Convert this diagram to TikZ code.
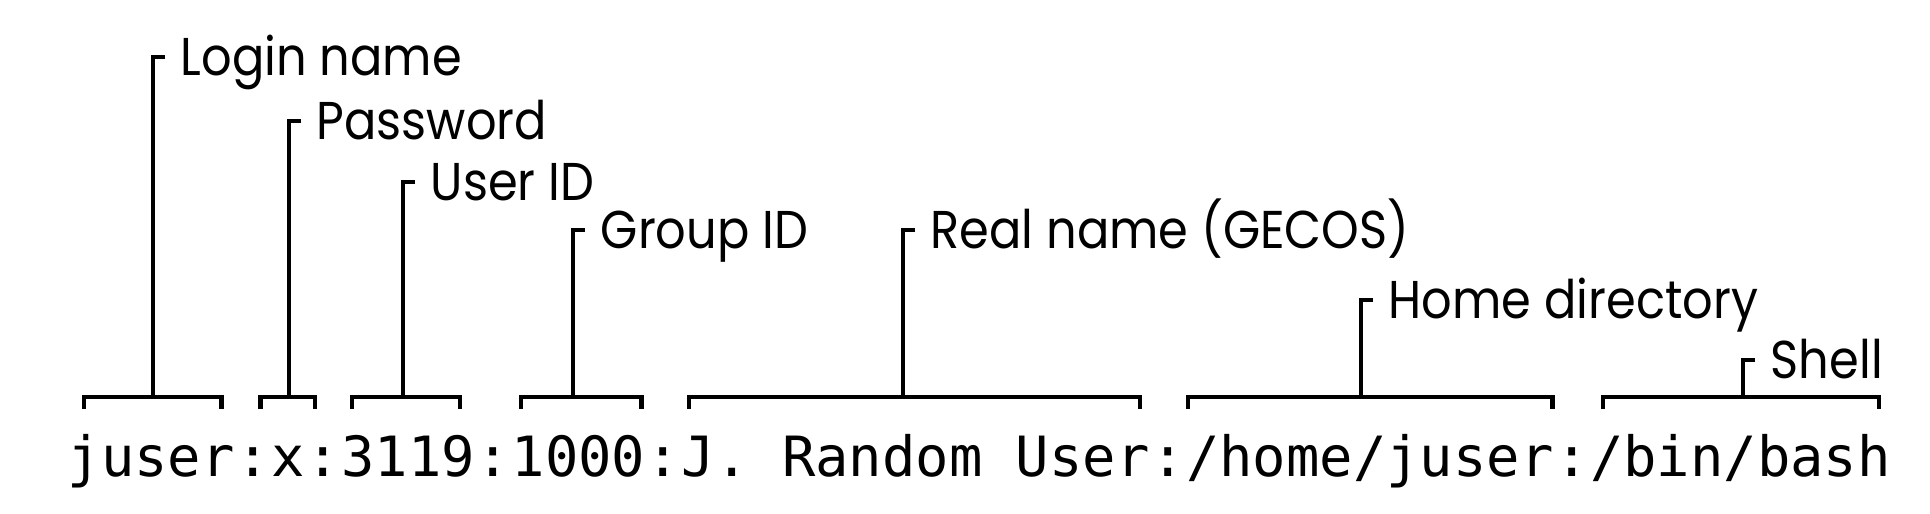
\documentclass[tikz,border=0pt]{standalone}
\usepackage{fontspec}
\setmonofont{DejaVu Sans Mono}
\newfontfamily\labelfont[FakeStretch=0.9]{Poppins}
\usetikzlibrary{positioning}
\frenchspacing
\tikzstyle{field} = [inner sep=0pt, font=\ttfamily\fontsize{13.87}{14}\selectfont]
\tikzstyle{tag} = [inner sep=0pt, anchor=west, text height=9.3pt, text depth=0pt,
    font=\labelfont\fontsize{13.3}{13.3}\selectfont]
\tikzstyle{bracketline} = [draw, line width=1.1pt, line join=miter]

\begin{document}
\begin{tikzpicture}[x=0.25pt, y=-0.25pt]
   \useasboundingbox (0,0) rectangle (1930,514);
   % The passwd line
    \node [field, anchor=base west] (user) at (67,476) {juser};
    \node [field, base right=0pt of user] (c1) {:};
    \node [field, base right=0pt of c1] (pass) {x};
    \node [field, base right=0pt of pass] (c2) {:};
    \node [field, base right=0pt of c2] (uid) {3119};
    \node [field, base right=0pt of uid] (c3) {:};
    \node [field, base right=0pt of c3] (gid) {1000};
    \node [field, base right=0pt of gid] (c4) {:};
    \node [field, base right=0pt of c4] (gecos) {J. Random User};
    \node [field, base right=0pt of gecos] (c5) {:};
    \node [field, base right=0pt of c5] (home) {/home/juser};
    \node [field, base right=0pt of home] (c6) {:};
    \node [field, base right=0pt of c6] (shell) {/bin/bash};
   % Field names
    \node [tag] (tuser) at (180,57) {Login name};
    \node [tag] (tpass) at (316,121) {Password};
    \node [tag] (tuid) at (430,182) {User ID};
    \node [tag] (tgid) at (600,230) {Group ID};
    \node [tag] (tgecos) at (930,230) {Real name (GECOS)};
    \node [tag] (thome) at (1388,300) {Home directory};
    \node [tag] (tshell) at (1770,360) {Shell};
   % Brackets over the fields
    \coordinate (bt) at (0,397.25);
    \coordinate (bb) at (0,409);
    \draw [bracketline] ([xshift=4.2pt]user.west |- bb) |- ([xshift=-3.5pt]user.east |- bt) -- ([xshift=-3.5pt]user.east |- bb);
    \draw [bracketline] ([xshift=-2.5pt]pass.west |- bb) |- ([xshift=2.4pt]pass.east |- bt) -- ([xshift=2.4pt]pass.east |- bb);
    \draw [bracketline] ([xshift=2.8pt]uid.west |- bb) |- ([xshift=-3.9pt]uid.east |- bt) -- ([xshift=-3.9pt]uid.east |- bb);
    \draw [bracketline] ([xshift=2.5pt]gid.west |- bb) |- ([xshift=-1.1pt]gid.east |- bt) -- ([xshift=-1.1pt]gid.east |- bb);
    \draw [bracketline] ([xshift=2pt]gecos.west |- bb) |- ([xshift=-2.5pt]gecos.east |- bt) -- ([xshift=-2.5pt]gecos.east |- bb);
    \draw [bracketline] ([xshift=0.7pt]home.west |- bb) |- ([xshift=-0.4pt]home.east |- bt) -- ([xshift=-0.4pt]home.east |- bb);
    \draw [bracketline] ([xshift=3.4pt]shell.west |- bb) |- ([xshift=-3.1pt]shell.east |- bt) -- ([xshift=-3.1pt]shell.east |- bb);
   % Stems up to the names
    \draw [bracketline] ([xshift=-3.75pt]tuser.west) -| ([xshift=-6.75pt]tuser.west |- bt);
    \draw [bracketline] ([xshift=-3.75pt]tpass.west) -| ([xshift=-6.75pt]tpass.west |- bt);
    \draw [bracketline] ([xshift=-3.75pt]tuid.west) -| ([xshift=-6.75pt]tuid.west |- bt);
    \draw [bracketline] ([xshift=-3.75pt]tgid.west) -| ([xshift=-6.75pt]tgid.west |- bt);
    \draw [bracketline] ([xshift=-3.75pt]tgecos.west) -| ([xshift=-6.75pt]tgecos.west |- bt);
    \draw [bracketline] ([xshift=-3.75pt]thome.west) -| ([xshift=-6.75pt]thome.west |- bt);
    \draw [bracketline] ([xshift=-3.75pt]tshell.west) -| ([xshift=-6.75pt]tshell.west |- bt);
\end{tikzpicture}
\end{document}
